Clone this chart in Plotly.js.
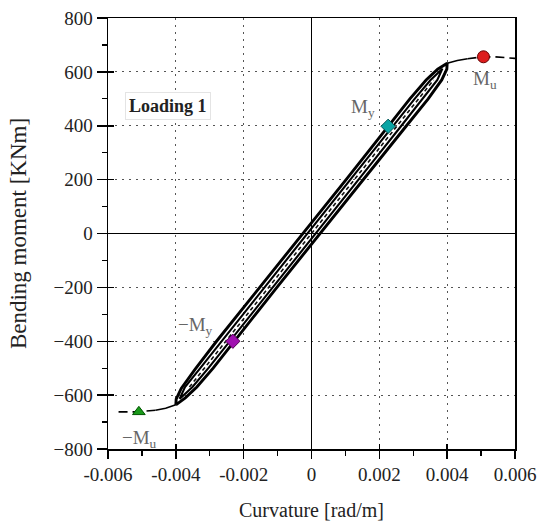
<!DOCTYPE html>
<html>
<head>
<meta charset="utf-8">
<script src="https://cdn.plot.ly/plotly-3.0.1.min.js"></script>
<style>html,body{margin:0;padding:0;background:#fff;}#chart{width:541px;height:529px;}</style>
</head>
<body>
<div id="chart"></div>
<script>
// Outer hysteresis loop (curvature rad/m, moment kNm)
const outerK = [-0.0040,-0.00399,-0.00384,-0.00344,-0.0028,-0.00216,-0.00152,-0.00088,-0.00025,0.00038,0.00102,0.00165,0.00228,0.0029,0.00338,0.00372,0.0040,
                0.00399,0.00384,0.00344,0.0028,0.00216,0.00152,0.00088,0.00025,-0.00038,-0.00102,-0.00165,-0.00228,-0.0029,-0.00338,-0.00372,-0.0040];
const outerM = [-636,-615,-575,-505,-400,-300,-200,-100,0,100,200,300,400,500,570,610,632,
                610,570,500,400,300,200,100,0,-100,-200,-300,-400,-500,-570,-610,-636];
// Inner hysteresis loop
const innerK = [-0.00389,-0.00373,-0.00328,-0.00265,-0.00202,-0.00139,-0.00075,-0.00012,0.00051,0.00115,0.00178,0.00241,0.00304,0.00351,0.00386,
                0.00371,0.00328,0.00265,0.00202,0.00139,0.00075,0.00012,-0.00051,-0.00115,-0.00178,-0.00241,-0.00304,-0.00351,-0.00389];
const innerM = [-614,-570,-500,-400,-300,-200,-100,0,100,200,300,400,500,570,612,
                570,500,400,300,200,100,0,-100,-200,-300,-400,-500,-570,-614];
// Backbone dashed centre line
const centerK = [-0.0036,0,0.0036];
const centerM = [-570,0,570];
// Envelope continuation (solid part and dashed part)
const envPosSolidK = [0.0040,0.0043,0.0046];
const envPosSolidM = [632,642,649];
const envPosDashK = [0.0046,0.0050,0.0054,0.0060];
const envPosDashM = [649,655,656,650];
const envNegSolidK = [-0.0040,-0.0043,-0.0046];
const envNegSolidM = [-636,-649,-656];
const envNegDashK = [-0.0046,-0.0051,-0.0058];
const envNegDashM = [-656,-662,-662];
// Characteristic points
const MuPt = [0.00507, 656];
const MyPt = [0.00226, 398];
const negMyPt = [-0.00232, -400];
const negMuPt = [-0.00509, -662];
// Axis ticks
const xTickVals = [-0.006,-0.004,-0.002,0,0.002,0.004,0.006];
const xTickText = ['-0.006','-0.004','-0.002','0','0.002','0.004','0.006'];

const serif = 'Liberation Serif, Times New Roman, serif';
const traces = [
  {x: outerK, y: outerM, mode:'lines', line:{color:'#000', width:2.9}, hoverinfo:'skip'},
  {x: innerK, y: innerM, mode:'lines', line:{color:'#000', width:2.1}, hoverinfo:'skip'},
  {x: centerK, y: centerM, mode:'lines', line:{color:'#111', width:1.6, dash:'4px,3px'}, hoverinfo:'skip'},
  {x: envPosSolidK, y: envPosSolidM, mode:'lines', line:{color:'#000', width:1.6}},
  {x: envPosDashK, y: envPosDashM, mode:'lines', line:{color:'#000', width:1.6, dash:'9px,5px'}},
  {x: envNegSolidK, y: envNegSolidM, mode:'lines', line:{color:'#000', width:1.6}},
  {x: envNegDashK, y: envNegDashM, mode:'lines', line:{color:'#000', width:1.6, dash:'9px,5px'}},
  {x:[MuPt[0]], y:[MuPt[1]], mode:'markers', marker:{symbol:'circle', size:12, color:'#dd1c1c', line:{color:'#600', width:1}}},
  {x:[MyPt[0]], y:[MyPt[1]], mode:'markers', marker:{symbol:'diamond', size:11, color:'#0aa5a5', line:{color:'#055', width:1}}},
  {x:[negMyPt[0]], y:[negMyPt[1]], mode:'markers', marker:{symbol:'diamond', size:11, color:'#a010b0', line:{color:'#505', width:1}}},
  {x:[negMuPt[0]], y:[negMuPt[1]], mode:'markers', marker:{symbol:'triangle-up', size:11, color:'#1a9a1a', line:{color:'#050', width:1}}},
  // overlay axes for inward part of major ticks
  {x:[0], y:[0], xaxis:'x2', yaxis:'y2', mode:'markers', marker:{opacity:0}, hoverinfo:'skip'}
];

const lblFont = {family: serif, size: 19, color: '#666'};
const layout = {
  width:541, height:529,
  margin:{l:108, r:26, t:18, b:80},
  paper_bgcolor:'#fff', plot_bgcolor:'#fff',
  showlegend:false,
  font:{family: serif, size:19, color:'#222'},
  xaxis:{
    range:[-0.006,0.006], tickmode:'array', tickvals:xTickVals, ticktext:xTickText,
    ticks:'outside', ticklen:8, tickwidth:1.5, tickcolor:'#000',
    minor:{dtick:0.001, tick0:0, ticks:'outside', ticklen:5, tickwidth:1.2, tickcolor:'#000', showgrid:false},
    showline:true, linecolor:'#000', linewidth:1.5, mirror:true,
    showgrid:true, gridcolor:'#555', gridwidth:1.1, griddash:'2px,5px',
    zeroline:true, zerolinecolor:'#000', zerolinewidth:1.5,
    tickfont:{family: serif, size:19, color:'#222'},
    title:{text:'Curvature [rad/m]', font:{family: serif, size:20, color:'#222'}, standoff:18}
  },
  yaxis:{
    range:[-800,800], tickmode:'linear', tick0:-800, dtick:200,
    ticks:'outside', ticklen:10, tickwidth:1.5, tickcolor:'#000',
    minor:{dtick:100, ticks:'outside', ticklen:5, tickwidth:1.2, tickcolor:'#000', showgrid:false},
    showline:true, linecolor:'#000', linewidth:1.5, mirror:true,
    showgrid:true, gridcolor:'#555', gridwidth:1.1, griddash:'2px,5px',
    zeroline:true, zerolinecolor:'#000', zerolinewidth:1.5,
    tickfont:{family: serif, size:19, color:'#222'},
    title:{text:'Bending moment [KNm]', font:{family: serif, size:23, color:'#222'}, standoff:20}
  },
  xaxis2:{overlaying:'x', anchor:'y', matches:'x', side:'bottom', range:[-0.006,0.006], tickmode:'array', tickvals:xTickVals,
    ticks:'inside', ticklen:5, tickwidth:1.5, tickcolor:'#000', showticklabels:false, showgrid:false, zeroline:false, showline:false},
  yaxis2:{overlaying:'y', anchor:'x', side:'left', range:[-800,800], tickmode:'linear', tick0:-800, dtick:200,
    ticks:'inside', ticklen:6, tickwidth:1.5, tickcolor:'#000', showticklabels:false, showgrid:false, zeroline:false, showline:false},
  annotations:[
    {x:-0.00423, y:472, xref:'x', yref:'y', text:'<b>Loading 1</b>', showarrow:false,
     font:{family: serif, size:18, color:'#222'}, bgcolor:'#fff', bordercolor:'#e4e4e4', borderwidth:1, borderpad:3},
    {x:0.00152, y:465, xref:'x', yref:'y', text:'M<sub>y</sub>', showarrow:false, font:lblFont},
    {x:0.00512, y:569, xref:'x', yref:'y', text:'M<sub>u</sub>', showarrow:false, font:lblFont},
    {x:-0.00341, y:-342, xref:'x', yref:'y', text:'\u2212M<sub>y</sub>', showarrow:false, font:lblFont},
    {x:-0.00506, y:-762, xref:'x', yref:'y', text:'\u2212M<sub>u</sub>', showarrow:false, font:lblFont}
  ]
};
Plotly.newPlot('chart', traces, layout, {staticPlot:true, displayModeBar:false});
</script>
</body>
</html>
